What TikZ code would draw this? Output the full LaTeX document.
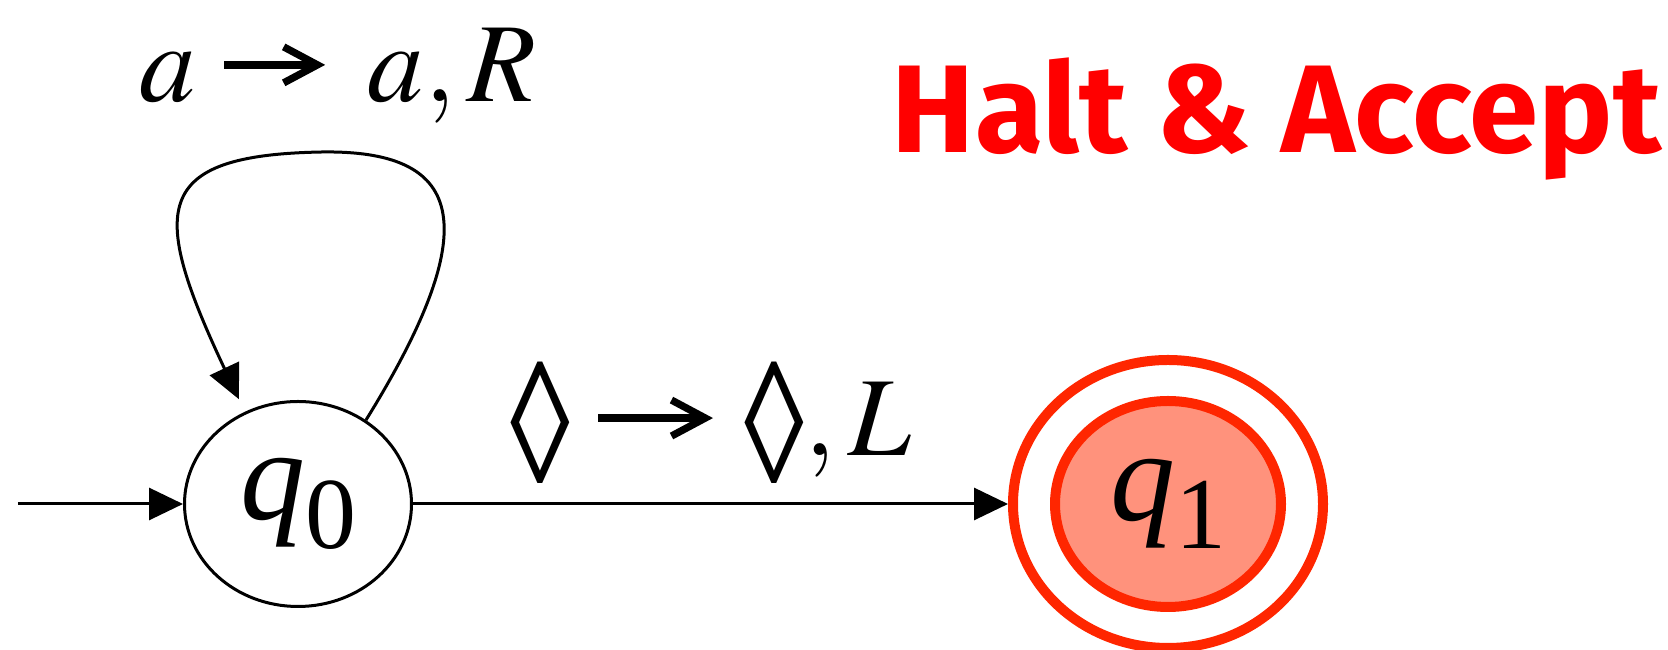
\documentclass[tikz,border=0pt]{standalone}
\usepackage{mathptmx}
\usepackage{graphicx}
\usepackage{fontspec}
\setmainfont{Liberation Serif}
\newfontfamily\haltfont{Fira Sans}
\usetikzlibrary{shapes.geometric,arrows.meta}

\definecolor{haltred}{RGB}{255,0,0}
\definecolor{ringred}{RGB}{255,38,0}
\definecolor{acceptfill}{RGB}{255,146,124}

\newcommand{\loz}{\raisebox{-0.25em}{\resizebox*{0.53em}{1.08em}{◊}}}
\newcommand{\goesto}{\mathrel{\tikz[baseline=-0.33em]\draw[line width=0.065em,-{Straight Barb[length=0.3em,width=0.32em]}] (0,0) -- (1.02em,0);}}
\newcommand{\statelabel}[2]{\textit{#1}\raisebox{-0.22em}{\fontsize{29}{30}\selectfont #2}}

\begin{document}
\begin{tikzpicture}[>={Triangle[length=0.34cm,width=0.32cm]}, line width=0.03cm,
    state/.style={ellipse,draw,minimum width=2.27cm,minimum height=2.05cm,inner sep=0pt,font=\fontsize{37}{44}\selectfont},
    accept/.style={ellipse,draw=ringred,fill=acceptfill,line width=0.1cm,minimum width=2.26cm,minimum height=2.06cm,inner sep=0pt,font=\fontsize{37}{44}\selectfont},
    ring/.style={ellipse,draw=ringred,line width=0.1cm,minimum width=3.10cm,minimum height=2.88cm,inner sep=0pt},
    lbl/.style={inner sep=0pt,font=\fontsize{32}{38}\selectfont},
    halt/.style={inner sep=0pt,text=haltred,font=\haltfont\bfseries\fontsize{35.5}{42}\selectfont}]
    \useasboundingbox (0,0) rectangle (16.68,6.5);

    \node[state] (q0) at (2.98,1.46) {\statelabel{q}{0}};
    \node[accept] (q1) at (11.68,1.46) {\statelabel{q}{1}};
    \node[ring] (q1ring) at (11.68,1.46) {};
    \coordinate (start) at (0.18,1.46);
    \node[halt,anchor=base] (halt) at (12.765,4.97) {Halt \& Accept};

    \draw[->] (start) -- (q0);
    \draw[->] (q0) -- node[lbl,above=0.2cm] {$\mbox{\loz}\goesto\mbox{\loz},L$} (q1ring);
    \draw[->,shorten >=0.14cm] (q0.51) .. controls (4.90,4.30) and (4.60,5.00) .. (3.22,4.98)
        node[lbl,anchor=base,xshift=0.16cm,yshift=0.5cm] {$a\goesto a,R$}
        .. controls (1.50,4.95) and (1.50,4.40) .. (q0.120);
\end{tikzpicture}
\end{document}
